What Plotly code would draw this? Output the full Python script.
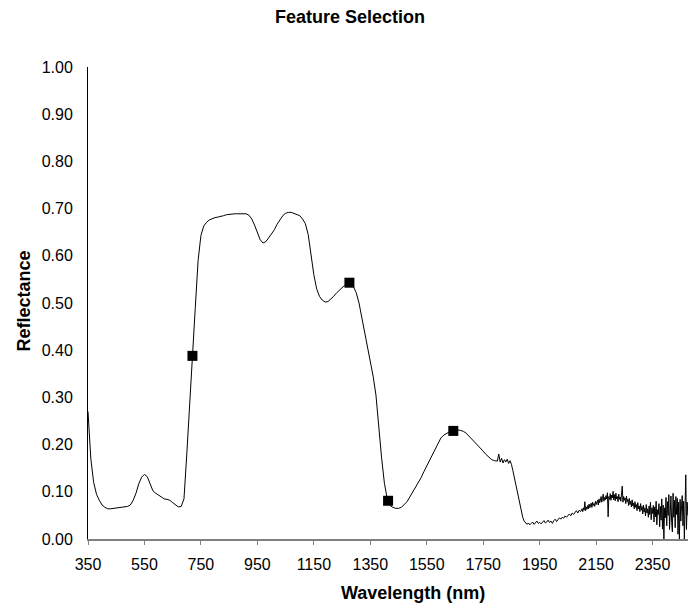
import plotly.graph_objects as go

# Smooth part of the spectrum (10 nm steps, 350-1800 nm)
wl_main = list(range(350, 1801, 10))
refl_main = [
    0.270, 0.170, 0.120, 0.095, 0.082, 0.072, 0.067, 0.064, 0.064, 0.065,
    0.065, 0.066, 0.067, 0.068, 0.069, 0.072, 0.082, 0.097, 0.117, 0.131,
    0.137, 0.132, 0.115, 0.102, 0.097, 0.093, 0.089, 0.085, 0.084, 0.082,
    0.077, 0.072, 0.068, 0.069, 0.085, 0.180, 0.290, 0.390, 0.490, 0.590,
    0.643, 0.663, 0.671, 0.676, 0.679, 0.681, 0.682, 0.683, 0.685, 0.687,
    0.688, 0.689, 0.689, 0.689, 0.689, 0.690, 0.689, 0.686, 0.678, 0.665,
    0.648, 0.634, 0.627, 0.630, 0.638, 0.646, 0.655, 0.667, 0.677, 0.685,
    0.690, 0.692, 0.692, 0.690, 0.688, 0.685, 0.678, 0.668, 0.645, 0.600,
    0.560, 0.530, 0.514, 0.506, 0.502, 0.503, 0.508, 0.514, 0.521, 0.527,
    0.533, 0.538, 0.542, 0.541, 0.535, 0.522, 0.500, 0.470, 0.437, 0.405,
    0.372, 0.345, 0.305, 0.232, 0.172, 0.118, 0.085, 0.071, 0.067, 0.065,
    0.065, 0.067, 0.072, 0.079, 0.089, 0.099, 0.108, 0.118, 0.130, 0.143,
    0.155, 0.167, 0.180, 0.193, 0.205, 0.214, 0.220, 0.224, 0.227, 0.229,
    0.230, 0.231, 0.230, 0.228, 0.224, 0.218, 0.211, 0.205, 0.199, 0.192,
    0.186, 0.179, 0.173, 0.168, 0.166, 0.165,
]

# Short-wave infrared, first part (5 nm steps, 1805-2095 nm)
wl_swir_a = list(range(1805, 2096, 5))
refl_swir_a = [
    0.180, 0.163, 0.171, 0.161, 0.168, 0.163, 0.169, 0.160, 0.166, 0.158,
    0.145, 0.130, 0.115, 0.102, 0.088, 0.072, 0.058, 0.046, 0.038, 0.033,
    0.031, 0.034, 0.030, 0.033, 0.036, 0.031, 0.034, 0.038, 0.033, 0.035,
    0.032, 0.037, 0.039, 0.034, 0.036, 0.040, 0.035, 0.038, 0.033,
    0.039, 0.042, 0.037, 0.041, 0.045, 0.042, 0.046, 0.044, 0.049, 0.046,
    0.050, 0.053, 0.049, 0.055, 0.052, 0.057, 0.060, 0.055, 0.061, 0.058,
]

# Short-wave infrared, noisy end (2.5 nm steps, 2100-2475 nm)
refl_swir_b = [
    0.064, 0.058, 0.066, 0.061, 0.079, 0.060, 0.068, 0.063, 0.071, 0.064,
    0.074, 0.066, 0.070, 0.076, 0.067, 0.078, 0.071, 0.075, 0.069, 0.080,
    0.073, 0.078, 0.082, 0.072, 0.085, 0.077, 0.081, 0.090, 0.078, 0.086,
    0.095, 0.080, 0.088, 0.083, 0.092, 0.085, 0.098, 0.047, 0.090, 0.084,
    0.096, 0.082, 0.093, 0.087, 0.101, 0.083, 0.094, 0.081, 0.097, 0.085,
    0.090, 0.079, 0.095, 0.084, 0.089, 0.080, 0.092, 0.112, 0.078, 0.090,
    0.082, 0.087, 0.075, 0.091, 0.079, 0.084, 0.071, 0.086, 0.073, 0.080,
    0.068, 0.083, 0.070, 0.076, 0.064, 0.079, 0.067, 0.073, 0.060, 0.077,
    0.064, 0.070, 0.058, 0.075, 0.061, 0.069, 0.053, 0.072, 0.057, 0.066,
    0.049, 0.073, 0.055, 0.064, 0.046, 0.070, 0.052, 0.078, 0.041, 0.066,
    0.054, 0.071, 0.036, 0.068, 0.047, 0.080, 0.030, 0.062, 0.052, 0.075,
    0.026, 0.069, 0.040, 0.085, 0.021, 0.072, 0.000, 0.066, 0.045, 0.088,
    0.028, 0.079, 0.050, 0.094, 0.020, 0.070, 0.091, 0.035, 0.015, 0.097,
    0.046, 0.082, 0.024, 0.090, 0.052, 0.086, 0.010, 0.078, 0.000, 0.084,
    0.038, 0.071, 0.092, 0.028, 0.080, 0.000, 0.055, 0.136, 0.020, 0.078,
    0.050,
]
wl_swir_b = [2100 + 2.5 * i for i in range(len(refl_swir_b))]

# Selected features
sel_wl = [720, 1276, 1413, 1644]
sel_refl = [0.388, 0.543, 0.081, 0.229]

x_ticks = [350, 550, 750, 950, 1150, 1350, 1550, 1750, 1950, 2150, 2350]
y_ticks = [0.0, 0.1, 0.2, 0.3, 0.4, 0.5, 0.6, 0.7, 0.8, 0.9, 1.0]

FONT = "Liberation Sans, Arial, sans-serif"

fig = go.Figure()
fig.add_trace(go.Scatter(
    x=wl_main + wl_swir_a + wl_swir_b,
    y=refl_main + refl_swir_a + refl_swir_b,
    mode="lines", line=dict(color="black", width=1), showlegend=False,
))
fig.add_trace(go.Scatter(
    x=sel_wl, y=sel_refl, mode="markers",
    marker=dict(symbol="square", size=10, color="black"),
    showlegend=False, cliponaxis=False,
))

L, R, T, B = 88, 0, 67, 64
W, H = 688, 603
pw = W - L - R
ph = H - T - B

fig.update_layout(
    width=W, height=H,
    margin=dict(l=L, r=R, t=T, b=B, pad=0),
    paper_bgcolor="white", plot_bgcolor="white",
    font=dict(family=FONT, size=16, color="black"),
    title=dict(text="<b>Feature Selection</b>", x=350 / W, xanchor="center",
               y=1 - 17 / H, yanchor="middle", yref="container",
               font=dict(family=FONT, size=18, color="black")),
    xaxis=dict(range=[350, 350 + pw / 0.2823], tickvals=x_ticks,
               ticktext=[str(v) for v in x_ticks],
               showgrid=False, zeroline=False, showline=True,
               linecolor="#808080", linewidth=2, ticks="outside",
               ticklen=4, tickcolor="#808080", tickwidth=1,
               ticklabelstandoff=6,
               tickfont=dict(size=16, family=FONT)),
    yaxis=dict(range=[0, 1], tickvals=y_ticks,
               ticktext=[f"{v:.2f}" for v in y_ticks],
               showgrid=False, zeroline=False, showline=True,
               linecolor="black", linewidth=1, ticks="",
               ticklabelstandoff=11,
               tickfont=dict(size=16, family=FONT)),
    annotations=[
        dict(text="<b>Reflectance</b>", xref="paper", yref="paper",
             x=(23 - L) / pw, y=(539 - 301.5) / ph, textangle=-90,
             showarrow=False, xanchor="center", yanchor="middle",
             font=dict(family=FONT, size=18, color="black")),
        dict(text="<b>Wavelength (nm)</b>", xref="paper", yref="paper",
             x=(413 - L) / pw, y=(539 - 593) / ph,
             showarrow=False, xanchor="center", yanchor="middle",
             font=dict(family=FONT, size=18, color="black")),
    ],
)

fig.write_html("out.html")
